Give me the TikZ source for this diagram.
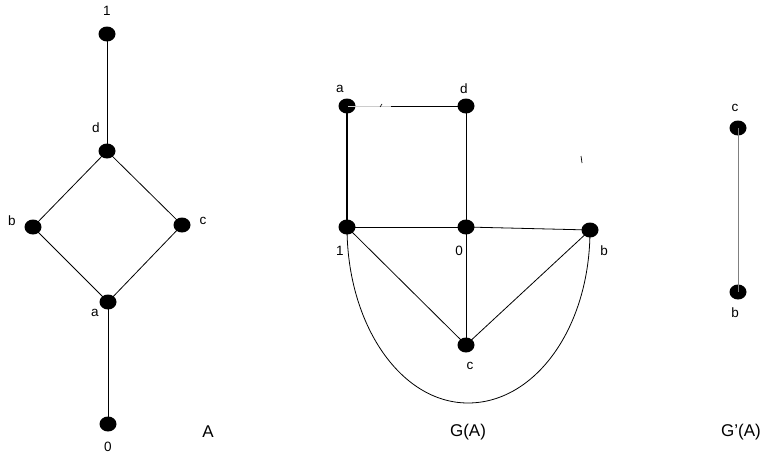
\documentclass[tikz,border=0pt]{standalone}
\usepackage{fontspec}
\setmainfont{Liberation Sans}
\usetikzlibrary{shapes.geometric}
\begin{document}
\begin{tikzpicture}[x=1pt,y=-1pt,
  dot/.style={ellipse,fill=black,inner sep=0pt,minimum width=17pt,minimum height=15pt},
  lbl/.style={inner sep=0pt,font=\fontsize{13.5}{13.5}\selectfont},
  ttl/.style={inner sep=0pt,font=\fontsize{17}{17}\selectfont},
  edge/.style={line width=0.8pt}]
\useasboundingbox (0,0) rectangle (769,458);
% --- A ---
\node[dot] (A1) at (107,34) {};
\node[dot] (Ad) at (107,151) {};
\node[dot] (Ab) at (33,227) {};
\node[dot] (Ac) at (182,225) {};
\node[dot] (Aa) at (108,302) {};
\node[dot] (A0) at (108,424) {};
\draw[edge] (A1.center) -- (Ad.center);
\draw[edge] (Ad.center) -- (Ab.center);
\draw[edge] (Ad.center) -- (Ac.center);
\draw[edge] (Ab.center) -- (Aa.center);
\draw[edge] (Ac.center) -- (Aa.center);
\draw[edge] (Aa.center) -- (A0.center);
\node[lbl] (lA1) at (107,11) {1};
\node[lbl] (lAd) at (96,128) {d};
\node[lbl] (lAb) at (12,221) {b};
\node[lbl] (lAc) at (203,221) {c};
\node[lbl] (lAa) at (95,313) {a};
\node[lbl] (lA0) at (108,447) {0};
\node[ttl] (tA) at (208,432) {A};
% --- G(A) ---
\node[dot] (Ga) at (347,106) {};
\node[dot] (Gd) at (466,106) {};
\node[dot] (G1) at (347,227) {};
\node[dot] (G0) at (466,227) {};
\node[dot] (Gb) at (590,230) {};
\node[dot] (Gc) at (466,345) {};
\coordinate (Gm) at (391,106);
\draw[edge,gray!40] (Ga.center) -- (Gm);
\draw[edge] (Gm) -- (Gd.center);
\draw[line width=0.6pt] (380,107) -- (382,104);
\draw[line width=1.6pt] (Ga.center) -- (G1.center);
\draw[edge] (Gd.center) -- (G0.center);
\draw[edge] (G1.center) -- (G0.center);
\draw[edge] (G0.center) -- (Gb.center);
\draw[edge] (G0.center) -- (Gc.center);
\draw[edge] (G1.center) -- (Gc.center);
\draw[edge] (Gb.center) -- (Gc.center);
\draw[edge] (G1.center) .. controls (347,325) and (401,403) .. (468,403)
  .. controls (535,403) and (590,328) .. (Gb.center);
\draw[line width=0.7pt] (581,156) -- (582,163);
\node[lbl] (lGa) at (340,89) {a};
\node[lbl] (lGd) at (464,89) {d};
\node[lbl] (lG1) at (340,251) {1};
\node[lbl] (lG0) at (459,251) {0};
\node[lbl] (lGb) at (604,251) {b};
\node[lbl] (lGc) at (470,366) {c};
\node[ttl] (tG) at (468,432) {G(A)};
% --- G'(A) ---
\node[dot] (Hc) at (738,128) {};
\node[dot] (Hb) at (738,292) {};
\draw[edge,gray] (Hc.center) -- (Hb.center);
\node[lbl] (lHc) at (735,108) {c};
\node[lbl] (lHb) at (735,313) {b};
\node[ttl] (tH) at (741,432) {G’(A)};
\end{tikzpicture}
\end{document}
